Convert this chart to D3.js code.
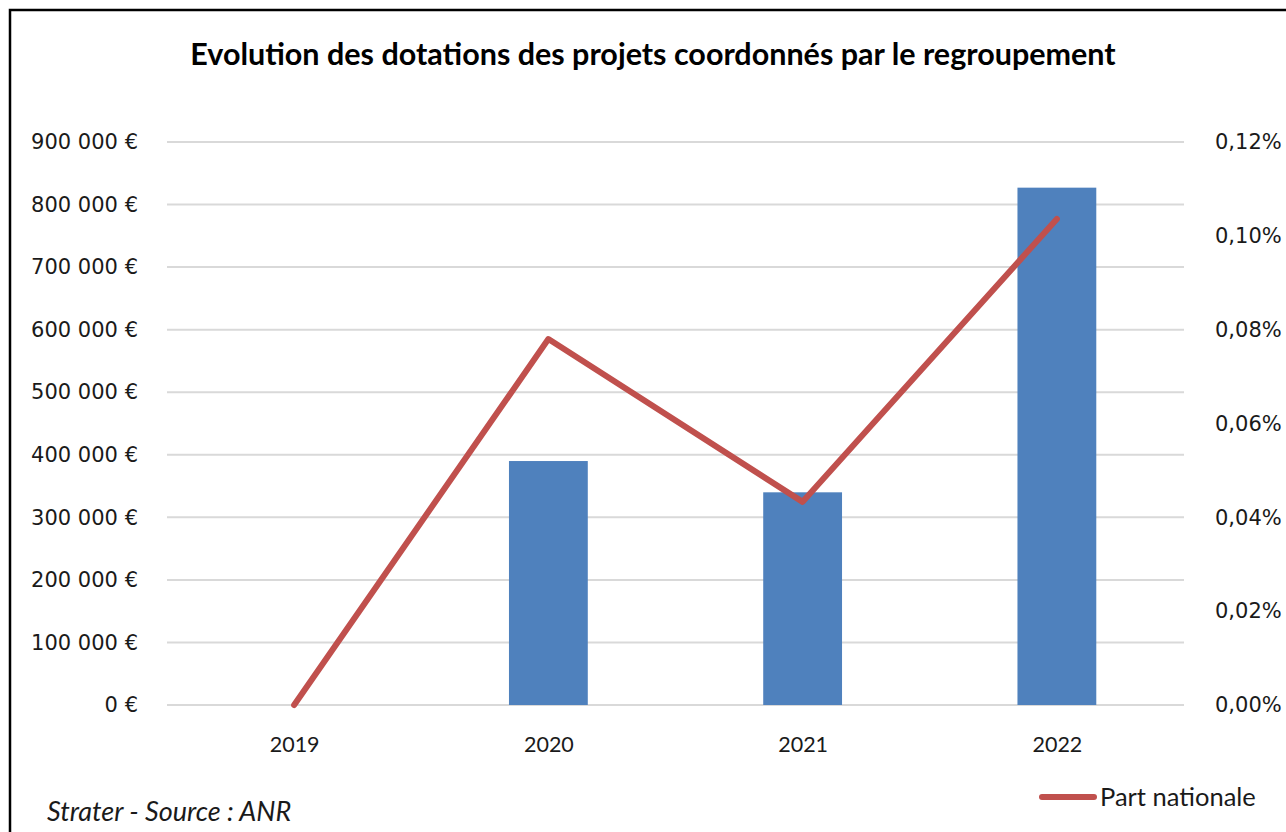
<!DOCTYPE html>
<html>
  <head>
    <meta charset="utf-8">
    <title>Evolution des dotations</title>
    <script src="https://d3js.org/d3.v7.min.js"></script>
    <style>
      body { margin: 0; background: #fff; }
      svg { display: block; }
    </style>
  </head>
  <body>
    <div id="chart"></div>
    <script>
      // data
      var years = ["2019", "2020", "2021", "2022"];
      var dotations = [0, 390000, 340000, 827000];
      var partNationale = [0, 0.078, 0.0433, 0.1036];
      var leftTicks = [0, 100000, 200000, 300000, 400000, 500000, 600000, 700000, 800000, 900000];
      var rightTicks = [0, 0.02, 0.04, 0.06, 0.08, 0.10, 0.12];

      var width = 1286, height = 832;
      var margin = { top: 142, bottom: 127, left: 167, right: 102 };

      var svg = d3.select("#chart")
        .append("svg")
        .attr("width", width)
        .attr("height", height);

      // frame
      svg.append("rect")
        .attr("x", 10).attr("y", 10)
        .attr("width", width + 20).attr("height", height + 20)
        .attr("fill", "none")
        .attr("stroke", "#000")
        .attr("stroke-width", 2.5);

      // scales
      var x = d3.scaleBand()
        .domain(years)
        .range([margin.left, width - margin.right])
        .paddingInner(0.69)
        .paddingOuter(0.345);
      var xc = d3.scalePoint()
        .domain(years)
        .range([margin.left, width - margin.right])
        .padding(0.5);
      var yLeft = d3.scaleLinear()
        .domain([0, 900000])
        .range([height - margin.bottom, margin.top]);
      var yRight = d3.scaleLinear()
        .domain([0, 0.12])
        .range([height - margin.bottom, margin.top]);

      var fmtEuro = function(d) {
        return d3.format(",")(d).replace(/,/g, " ") + " €";
      };
      var fmtPct = function(d) {
        return d3.format(".2f")(d).replace(".", ",") + "%";
      };

      // gridlines
      svg.append("g")
        .selectAll("line")
        .data(leftTicks)
        .enter().append("line")
          .attr("x1", margin.left)
          .attr("x2", width - margin.right)
          .attr("y1", function(d) { return yLeft(d); })
          .attr("y2", function(d) { return yLeft(d); })
          .attr("stroke", "#d9d9d9")
          .attr("stroke-width", 2);

      // left axis
      var leftAxis = svg.append("g")
        .attr("transform", "translate(" + (margin.left - 26) + ",0)")
        .call(d3.axisLeft(yLeft).tickValues(leftTicks).tickFormat(fmtEuro).tickSize(0));
      leftAxis.select(".domain").remove();
      leftAxis.selectAll("text")
        .attr("font-family", "'DejaVu Sans', sans-serif")
        .attr("font-size", 21)
        .attr("fill", "#1a1a1a");

      // right axis
      var rightAxis = svg.append("g")
        .attr("transform", "translate(" + (width - margin.right + 28) + ",0)")
        .call(d3.axisRight(yRight).tickValues(rightTicks).tickFormat(fmtPct).tickSize(0));
      rightAxis.select(".domain").remove();
      rightAxis.selectAll("text")
        .attr("font-family", "'DejaVu Sans', sans-serif")
        .attr("font-size", 21)
        .attr("fill", "#1a1a1a");

      // bars
      svg.append("g")
        .selectAll("rect")
        .data(years)
        .enter().append("rect")
          .attr("x", function(d) { return x(d); })
          .attr("width", x.bandwidth())
          .attr("y", function(d, i) { return yLeft(dotations[i]); })
          .attr("height", function(d, i) { return yLeft(0) - yLeft(dotations[i]); })
          .attr("fill", "#4f81bd");

      // line
      var line = d3.line()
        .x(function(d, i) { return xc(years[i]); })
        .y(function(d) { return yRight(d); });
      svg.append("path")
        .datum(partNationale)
        .attr("d", line)
        .attr("fill", "none")
        .attr("stroke", "#c0504d")
        .attr("stroke-width", 6)
        .attr("stroke-linejoin", "round")
        .attr("stroke-linecap", "round");

      // x axis
      var xAxis = svg.append("g")
        .attr("transform", "translate(0," + (height - margin.bottom + 29) + ")")
        .call(d3.axisBottom(xc).tickSize(0));
      xAxis.select(".domain").remove();
      xAxis.selectAll("text")
        .attr("font-family", "Lato, sans-serif")
        .attr("font-size", 21.5)
        .attr("fill", "#1a1a1a");

      // title
      svg.append("text")
        .attr("x", 653)
        .attr("y", 65)
        .attr("text-anchor", "middle")
        .attr("font-family", "Lato, sans-serif")
        .attr("font-weight", "bold")
        .attr("font-size", 30.5)
        .attr("fill", "#000")
        .text("Evolution des dotations des projets coordonnés par le regroupement");

      // legend
      svg.append("line")
        .attr("x1", 1042).attr("x2", 1094)
        .attr("y1", 797).attr("y2", 797)
        .attr("stroke", "#c0504d")
        .attr("stroke-width", 6)
        .attr("stroke-linecap", "round");
      svg.append("text")
        .attr("x", 1100)
        .attr("y", 806)
        .attr("font-family", "Lato, sans-serif")
        .attr("font-size", 25.5)
        .attr("fill", "#1a1a1a")
        .text("Part nationale");

      // source
      svg.append("text")
        .attr("x", 47)
        .attr("y", 821)
        .attr("font-family", "Lato, sans-serif")
        .attr("font-style", "italic")
        .attr("font-size", 27)
        .attr("fill", "#1a1a1a")
        .text("Strater - Source : ANR");
    </script>
  </body>
</html>
